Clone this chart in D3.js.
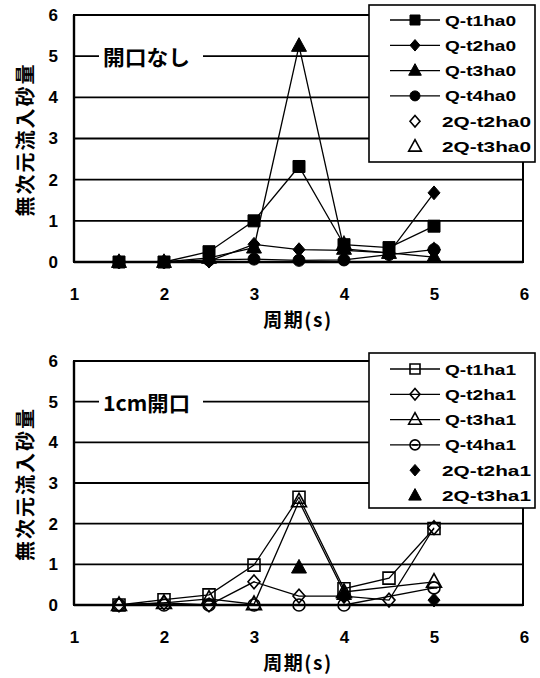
<!DOCTYPE html>
<html>
<head>
<meta charset="utf-8">
<script src="https://cdn.jsdelivr.net/npm/d3@7/dist/d3.min.js"></script>
<style>
  html, body { margin: 0; padding: 0; background: #fff; }
  svg { display: block; }
  text { font-family: "Liberation Sans", "Noto Sans CJK JP", sans-serif; font-weight: bold; fill: #000; }
  .jp { font-family: "Noto Sans CJK JP", sans-serif; }
</style>
</head>
<body>
<svg id="chart" width="540" height="678"></svg>
<script>
// Period (s) at which sand intake was measured
const periods = [1.5, 2, 2.5, 3, 3.5, 4, 4.5, 5];
const xTicks = [1, 2, 3, 4, 5, 6];
const yTicks = [0, 1, 2, 3, 4, 5, 6];

// Upper panel: no opening (開口なし)
const qT1ha0 = [0, 0, 0.25, 1.0, 2.32, 0.42, 0.35, 0.87];
const qT2ha0 = [0, 0, 0.02, 0.43, 0.3, 0.28, 0.22, 1.68];
const qT3ha0 = [0, 0, 0.1, 0.35, 5.25, 0.32, 0.22, 0.12];
const qT4ha0 = [0, 0, 0.05, 0.07, 0.04, 0.05, 0.18, 0.3];
const q2T2ha0 = [null, null, null, null, null, null, null, 0.3];
const q2T3ha0 = [null, null, null, null, null, 0.42, null, null];

// Lower panel: 1 cm opening (1cm開口)
const qT1ha1 = [0, 0.13, 0.25, 0.98, 2.65, 0.4, 0.66, 1.88];
const qT2ha1 = [0, 0.05, 0, 0.57, 0.22, 0.22, 0.12, 1.9];
const qT3ha1 = [0, 0.05, 0.15, 0.02, 2.55, 0.32, null, 0.57];
const qT4ha1 = [0, 0, 0, 0, 0, 0, null, 0.42];
const q2T2ha1 = [null, null, null, null, null, 0.22, null, 0.12];
const q2T3ha1 = [null, null, null, null, 0.92, 0.27, null, null];

const yTitle = "無次元流入砂量";
const xTitle = "周期(s)";

const panels = [
  {
    top: 15, bottom: 262, note: "開口なし",
    legendY: 5, legendH: 157, rowY: 20,
    series: [
      { name: "Q-t1ha0", values: qT1ha0, shape: "square", filled: true, line: true },
      { name: "Q-t2ha0", values: qT2ha0, shape: "diamond", filled: true, line: true },
      { name: "Q-t3ha0", values: qT3ha0, shape: "triangle", filled: true, line: true },
      { name: "Q-t4ha0", values: qT4ha0, shape: "circle", filled: true, line: true },
      { name: "2Q-t2ha0", values: q2T2ha0, shape: "diamond", filled: false, line: false },
      { name: "2Q-t3ha0", values: q2T3ha0, shape: "triangle", filled: false, line: false }
    ]
  },
  {
    top: 361, bottom: 605, note: "1cm開口",
    legendY: 353, legendH: 155, rowY: 369,
    series: [
      { name: "Q-t1ha1", values: qT1ha1, shape: "square", filled: false, line: true },
      { name: "Q-t2ha1", values: qT2ha1, shape: "diamond", filled: false, line: true },
      { name: "Q-t3ha1", values: qT3ha1, shape: "triangle", filled: false, line: true },
      { name: "Q-t4ha1", values: qT4ha1, shape: "circleBar", filled: false, line: true },
      { name: "2Q-t2ha1", values: q2T2ha1, shape: "diamond", filled: true, line: false },
      { name: "2Q-t3ha1", values: q2T3ha1, shape: "triangle", filled: true, line: false }
    ]
  }
];

const svg = d3.select("#chart");
const plotLeft = 74, plotRight = 523;

function markerPath(shape, s) {
  const p = d3.path();
  if (shape === "square") {
    p.rect(-s / 2, -s / 2, s, s);
  } else if (shape === "diamond") {
    const w = s, h = s * 1.15;
    p.moveTo(0, -h / 2); p.lineTo(w / 2, 0); p.lineTo(0, h / 2); p.lineTo(-w / 2, 0); p.closePath();
  } else if (shape === "triangle") {
    const w = s * 1.15, h = s * 1.05;
    p.moveTo(0, -h * 0.6); p.lineTo(w / 2, h * 0.4); p.lineTo(-w / 2, h * 0.4); p.closePath();
  } else {
    p.moveTo(s / 2, 0); p.arc(0, 0, s / 2, 0, Math.PI * 2); p.closePath();
    if (shape === "circleBar") { p.moveTo(-s * 0.28, 0); p.lineTo(s * 0.28, 0); }
  }
  return p.toString();
}

function drawMarker(g, shape, filled, cx, cy, s) {
  g.append("path")
    .attr("d", markerPath(shape, s))
    .attr("transform", `translate(${cx},${cy})`)
    .attr("fill", filled ? "#000" : "none")
    .attr("stroke", "#000")
    .attr("stroke-width", filled ? 1 : 1.6);
}

panels.forEach(panel => {
  const x = d3.scaleLinear().domain([1, 6]).range([plotLeft, 524]);
  const y = d3.scaleLinear().domain([0, 6]).range([panel.bottom, panel.top]);
  const g = svg.append("g");

  // horizontal gridlines
  g.append("g").selectAll("line").data(yTicks.filter(v => v > 0 && v < 6)).join("line")
    .attr("x1", plotLeft).attr("x2", plotRight)
    .attr("y1", d => y(d)).attr("y2", d => y(d))
    .attr("stroke", "#000").attr("stroke-width", 1.8);

  // plot frame
  g.append("rect")
    .attr("x", plotLeft).attr("y", y(6))
    .attr("width", plotRight - plotLeft).attr("height", y(0) - y(6))
    .attr("fill", "none").attr("stroke", "#000").attr("stroke-width", 2);
  g.append("line").attr("x1", plotLeft).attr("x2", plotRight)
    .attr("y1", y(0)).attr("y2", y(0)).attr("stroke", "#000").attr("stroke-width", 2.6);
  g.append("line").attr("x1", plotLeft).attr("x2", plotLeft)
    .attr("y1", y(6)).attr("y2", y(0)).attr("stroke", "#000").attr("stroke-width", 2.4);

  // axes (labels only)
  const xAxis = g.append("g").attr("transform", `translate(0,${y(0)})`)
    .call(d3.axisBottom(x).tickValues(xTicks).tickSize(0).tickPadding(26).tickFormat(d3.format("d")));
  xAxis.select(".domain").remove();
  xAxis.selectAll("text").attr("font-size", 17).attr("font-family", null).attr("fill", "#000");

  const yAxis = g.append("g").attr("transform", `translate(${plotLeft},0)`)
    .call(d3.axisLeft(y).tickValues(yTicks).tickSize(0).tickPadding(16).tickFormat(d3.format("d")));
  yAxis.select(".domain").remove();
  yAxis.selectAll("text").attr("font-size", 17).attr("font-family", null).attr("fill", "#000");

  // axis titles
  g.append("text").attr("class", "jp")
    .attr("x", 298).attr("y", panel.bottom + 65)
    .attr("text-anchor", "middle").attr("font-size", 19).attr("letter-spacing", 1.5)
    .text(xTitle);
  g.append("text").attr("class", "jp")
    .attr("transform", `translate(24,${(y(0) + y(6)) / 2 + 1}) rotate(-90)`)
    .attr("text-anchor", "middle").attr("dominant-baseline", "central")
    .attr("font-size", 20).attr("letter-spacing", 2)
    .text(yTitle);

  // annotation on the 5 gridline
  g.append("rect").attr("x", 99).attr("y", y(5) - 13).attr("width", 104).attr("height", 26).attr("fill", "#fff");
  g.append("text").attr("class", "jp")
    .attr("x", 103).attr("y", y(5)).attr("dominant-baseline", "central")
    .attr("font-size", 21).attr("font-weight", 500)
    .attr("textLength", 87).attr("lengthAdjust", "spacingAndGlyphs")
    .text(panel.note);

  // series lines
  const lineGen = d3.line().x(d => x(d.p)).y(d => y(d.v));
  panel.series.filter(s => s.line).forEach(s => {
    const pts = periods.map((p, i) => ({ p, v: s.values[i] })).filter(d => d.v !== null);
    g.append("path").datum(pts).attr("d", lineGen)
      .attr("fill", "none").attr("stroke", "#000").attr("stroke-width", 1.3);
  });

  // series markers
  panel.series.forEach(s => {
    periods.forEach((p, i) => {
      const v = s.values[i];
      if (v === null) return;
      drawMarker(g, s.shape, s.filled, x(p), y(v), s.shape === "triangle" ? 13 : 12);
    });
  });

  // legend
  g.append("rect").attr("x", 369).attr("y", panel.legendY).attr("width", 166).attr("height", panel.legendH)
    .attr("fill", "#fff").attr("stroke", "#000").attr("stroke-width", 1.6);
  panel.series.forEach((s, i) => {
    const ry = panel.rowY + i * 25.3;
    if (s.line) {
      g.append("line").attr("x1", 390).attr("x2", 440).attr("y1", ry).attr("y2", ry)
        .attr("stroke", "#000").attr("stroke-width", 1.3);
    }
    drawMarker(g, s.shape, s.filled, 415, ry, s.shape === "triangle" ? 11 : 10);
    g.append("text")
      .attr("x", s.line ? 445 : 442).attr("y", ry).attr("dominant-baseline", "central")
      .attr("font-size", 15)
      .attr("textLength", s.line ? 71 : 89).attr("lengthAdjust", "spacingAndGlyphs")
      .text(s.name);
  });
});
</script>
</body>
</html>
